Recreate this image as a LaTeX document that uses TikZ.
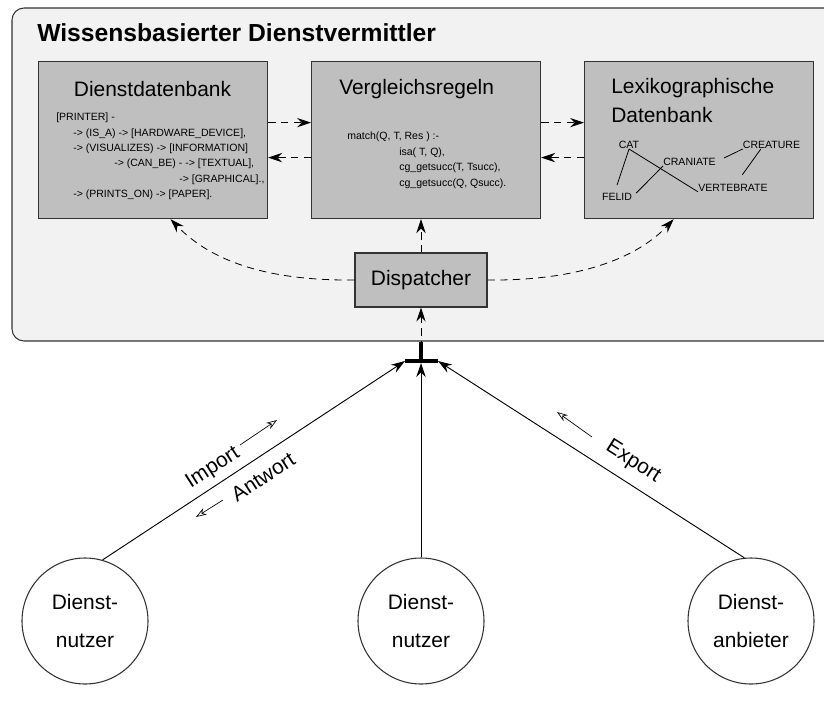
\documentclass[tikz,border=0pt]{standalone}
\usepackage{fontspec}
\setmainfont{Liberation Sans}
\usetikzlibrary{arrows.meta}

\definecolor{panel}{HTML}{F2F2F2}
\definecolor{boxgray}{HTML}{BFBFBF}
\definecolor{edge}{HTML}{333333}

\newcommand\headfont{\fontsize{15.7}{19}\selectfont}
\newcommand\codefont{\fontsize{7.9}{11.8}\selectfont}
\newcommand\actorfont{\fontsize{15.7}{29}\selectfont}

\begin{document}
\begin{tikzpicture}[x=0.75pt,y=-0.75pt,
  module/.style={draw=edge, fill=boxgray, line width=0.9pt, anchor=north west,
    minimum width=171.75pt, minimum height=117.75pt, inner sep=0pt},
  head/.style={font=\headfont, inner sep=0pt},
  code/.style={font=\codefont, inner sep=0pt, anchor=west},
  term/.style={font=\codefont, inner sep=0pt},
  flow/.style={dash pattern=on 5.5pt off 4pt, line width=0.6pt,
    -{Stealth[length=10.5pt,width=7pt,inset=3.5pt]}},
  feed/.style={line width=0.7pt, -{Stealth[length=10.5pt,width=7pt,inset=3.5pt]}},
  hint/.style={line width=0.5pt, -{Stealth[open,length=8pt,width=5.5pt,inset=2.5pt]}},
  actor/.style={draw=edge, line width=0.8pt, circle, minimum size=94.5pt,
    inner sep=0pt, align=center, font=\actorfont},
  tag/.style={font=\headfont, inner sep=0pt}
]
\useasboundingbox (0,0) rectangle (824,700);
\clip (0,0) rectangle (824,700);

% knowledge-based service broker panel
\draw[draw=edge, fill=panel, line width=0.8pt, rounded corners=9pt]
  (12,8) rectangle (840,341);
\node[anchor=west, inner sep=0pt, font=\fontsize{18.5}{22}\selectfont\bfseries]
  (title) at (37,33) {Wissensbasierter Dienstvermittler};

% the three modules
\node[module] (db) at (38,61) {};
\node[module] (vr) at (311,61) {};
\node[module] (lx) at (584,61) {};

\node[head] (dbhead) at (152.5,89) {Dienstdatenbank};
\node[code] (db1) at (56,118) {[PRINTER] -};
\node[code] (db2) at (73,134) {-> (IS\_A) -> [HARDWARE\_DEVICE],};
\node[code] (db3) at (73,149) {-> (VISUALIZES) -> [INFORMATION]};
\node[code] (db4) at (114,164) {-> (CAN\_BE) - -> [TEXTUAL],};
\node[code] (db5) at (179,180) {-> [GRAPHICAL].,};
\node[code] (db6) at (73,195) {-> (PRINTS\_ON) -> [PAPER].};

\node[head, anchor=west] (vrhead) at (339,89) {Vergleichsregeln};
\node[code] (vr1) at (347,137) {match(Q, T, Res ) :-};
\node[code] (vr2) at (399,153) {isa( T, Q),};
\node[code] (vr3) at (399,168) {cg\_getsucc(T, Tsucc),};
\node[code] (vr4) at (399,184) {cg\_getsucc(Q, Qsucc).};

\node[head, anchor=west] (lxhead1) at (611,88) {Lexikographische};
\node[head, anchor=west] (lxhead2) at (611,115) {Datenbank};

% small concept graph
\node[term] (cat) at (629,145) {CAT};
\node[term] (craniate) at (689.5,162) {CRANIATE};
\node[term] (creature) at (771.5,145) {CREATURE};
\node[term] (felid) at (617,197) {FELID};
\node[term] (vertebrate) at (733,188) {VERTEBRATE};
\begin{scope}[line width=0.6pt]
  \draw (cat.south) -- ([yshift=6pt]felid.north);
  \draw (cat.south) -- (vertebrate.south west);
  \draw ([xshift=3pt]felid.north east) -- (craniate.south west);
  \draw ([xshift=6pt]craniate.north east) -- (creature.south west);
  \draw ([xshift=-8pt]creature.south) -- ([xshift=7pt,yshift=7pt]vertebrate.north);
\end{scope}

% dispatcher
\node[draw=edge, fill=boxgray, line width=0.9pt, minimum width=99pt,
  minimum height=40.5pt, inner sep=0pt, font=\headfont] (disp) at (421,280) {Dispatcher};

% dashed message flows inside the broker
\draw[flow] ([yshift=13.1pt]db.east) -- ([yshift=13.1pt]vr.west);
\draw[flow] ([yshift=-13.1pt]vr.west) -- ([yshift=-13.1pt]db.east);
\draw[flow] ([yshift=13.1pt]vr.east) -- ([yshift=13.1pt]lx.west);
\draw[flow] ([yshift=-13.1pt]lx.west) -- ([yshift=-13.1pt]vr.east);
\draw[flow] (disp.north) -- (disp.north |- vr.south);
\draw[flow] (disp.west) .. controls (255,281) and (205,255) .. ([xshift=13.1pt]db.south);
\draw[flow] (disp.east) .. controls (585,281) and (640,255) .. ([xshift=-19.1pt]lx.south);

% junction below the broker
\coordinate (j) at (421,361);
\coordinate (jl) at (405,361);
\coordinate (jr) at (438,361);
\coordinate (jt) at (421,342);
\draw[flow] (j) -- (disp.south);
\draw[line width=2.6pt] (jl) -- (jr);
\draw[line width=2.6pt] (j) -- (jt);

% service users and provider
\node[actor] (c1) at (85,621) {Dienst-\\nutzer};
\node[actor] (c2) at (421,621) {Dienst-\\nutzer};
\node[actor] (c3) at (751,621) {Dienst-\\anbieter};

\draw[feed] (c1.74) -- (jl);
\draw[feed] (c2.north) -- ([yshift=-1.5pt]j);
\draw[feed] (c3.96) -- (jr);

% edge labels with direction hints
\node[tag, rotate=32.8] (imp) at (213,468) {Import};
\node[tag, rotate=32.8] (ans) at (263,477) {Antwort};
\node[tag, rotate=-32.5] (exp) at (633,462) {Export};
\coordinate (imp0) at (240,445); \coordinate (imp1) at (277,420);
\coordinate (ans0) at (223,500); \coordinate (ans1) at (196,517);
\coordinate (exp0) at (592,437); \coordinate (exp1) at (557,412);
\draw[hint] (imp0) -- (imp1);
\draw[hint] (ans0) -- (ans1);
\draw[hint] (exp0) -- (exp1);
\end{tikzpicture}
\end{document}
